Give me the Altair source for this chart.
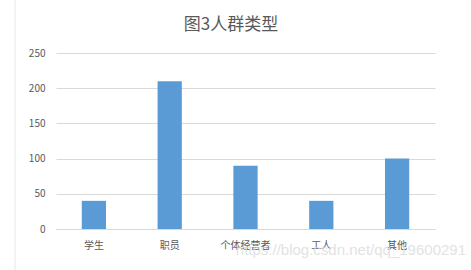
import altair as alt
import pandas as pd

categories = ["学生", "职员", "个体经营者", "工人", "其他"]
counts = [40, 210, 90, 40, 100]
title_text = ["图3人群类型"]
source_text = ["https://blog.csdn.net/qq_19600291"]

df = pd.DataFrame({"类型": categories, "人数": counts})

FONT = "Noto Sans CJK SC"
GREY = "#595959"

bars = alt.Chart(df).mark_bar(color="#5b9bd5").encode(
    x=alt.X("类型:N", sort=categories, title=None,
            scale=alt.Scale(paddingInner=0.68, paddingOuter=0.34),
            axis=alt.Axis(labelAngle=0, labelFont=FONT, labelFontSize=10,
                          labelColor=GREY, ticks=False, domainColor="#d9d9d9",
                          labelPadding=11, grid=False)),
    y=alt.Y("人数:Q", title=None,
            scale=alt.Scale(domain=[0, 250]),
            axis=alt.Axis(values=[0, 50, 100, 150, 200, 250], domain=False,
                          ticks=False, labelFont=FONT, labelFontSize=10,
                          labelColor=GREY, labelPadding=11,
                          gridColor="#d9d9d9")),
)

# chart heading above the plot area
heading = alt.Chart(pd.DataFrame({"t": title_text})).mark_text(
    font=FONT, fontSize=17, color=GREY, align="center", baseline="middle",
).encode(x=alt.value(175), y=alt.value(-28), text="t:N")

# source link along the bottom right
source = alt.Chart(pd.DataFrame({"t": source_text})).mark_text(
    font="Liberation Sans", fontSize=15, color="#dcdcdc", align="right",
    baseline="middle", opacity=0.8,
).encode(x=alt.value(410), y=alt.value(197), text="t:N")

# thin frame line along the left edge
edge = alt.Chart(pd.DataFrame({"a": [0]})).mark_rule(color="#e6e6e6").encode(
    x=alt.value(-41), y=alt.value(-53), y2=alt.value(217)
)

chart = alt.layer(bars, heading, source, edge).properties(
    width=379, height=176,
    autosize=alt.AutoSizeParams(type="none"),
    padding={"left": 56, "top": 53, "right": 36, "bottom": 41},
).configure_view(stroke=None)

chart.save("out.html", embed_options={"renderer": "svg", "actions": False})
